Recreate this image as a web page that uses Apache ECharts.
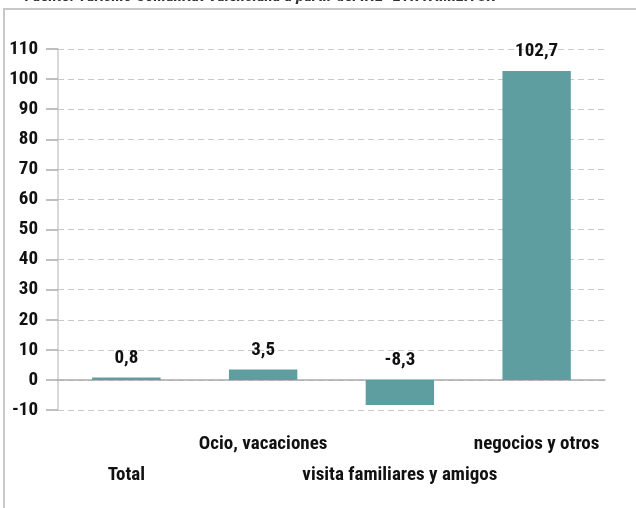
<!DOCTYPE html>
<html><head><meta charset="utf-8">
<script src="https://cdn.jsdelivr.net/npm/echarts@6/dist/echarts.min.js"></script>
<style>html,body{margin:0;padding:0;background:#fff;overflow:hidden}#c{width:636px;height:508px}</style>
</head><body><div id="c"></div>
<script>
const categories = ['Total', 'Ocio, vacaciones', 'visita familiares y amigos', 'negocios y otros'];
const values = [0.8, 3.5, -8.3, 102.7];
const yTicks = { min: -10, max: 110, interval: 10 };
const sourceText = 'Fuente: Turismo Comunitat Valenciana a partir del INE- ETR FAMILITUR';

const FONT = '"Liberation Sans Narrow", "Roboto Condensed", "Arial Narrow", Roboto, sans-serif';
const chart = echarts.init(document.getElementById('c'), null, { renderer: 'canvas' });
chart.setOption({
  animation: false,
  backgroundColor: '#fff',
  title: {
    text: sourceText, left: 20, top: -17,
    textStyle: { fontFamily: FONT, fontSize: 17, fontWeight: 'bold', fontStyle: 'italic', color: '#333' }
  },
  graphic: [{
    type: 'rect', shape: { x: 4, y: 9, width: 660, height: 540 },
    style: { fill: 'none', stroke: '#c8c8c8', lineWidth: 2 }, silent: true, z: -1
  }],
  grid: { left: 58, width: 547, top: 49, height: 361, containLabel: false, outerBoundsMode: 'none' },
  xAxis: {
    type: 'category', data: categories,
    axisLine: { show: true, onZero: true, lineStyle: { color: '#aaaaaa', width: 1.5 } },
    axisTick: { show: false },
    axisLabel: {
      interval: 0, margin: 19, color: '#111', lineHeight: 31,
      fontFamily: FONT, fontSize: 19, fontWeight: 'bold',
      formatter: (v, i) => i % 2 === 0 ? '\n' + v : v
    }
  },
  yAxis: {
    type: 'value', min: yTicks.min, max: yTicks.max, interval: yTicks.interval,
    axisLine: { show: true, lineStyle: { color: '#cccccc', width: 1.5 } },
    axisTick: { show: true, length: 12, lineStyle: { color: '#aaaaaa', width: 1.5 } },
    axisLabel: { margin: 20, color: '#111', fontFamily: FONT, fontSize: 19, fontWeight: 'bold' },
    splitLine: { show: true, lineStyle: { color: '#c8c8c8', type: [6, 4], width: 1.2 } }
  },
  series: [{
    type: 'bar', data: values, barWidth: '50%',
    itemStyle: { color: '#5f9ea0' },
    label: {
      show: true, position: 'top', distance: 10, color: '#111',
      fontFamily: FONT, fontSize: 19, fontWeight: 'bold',
      formatter: p => String(p.value).replace('.', ',')
    }
  }]
});
</script></body></html>
